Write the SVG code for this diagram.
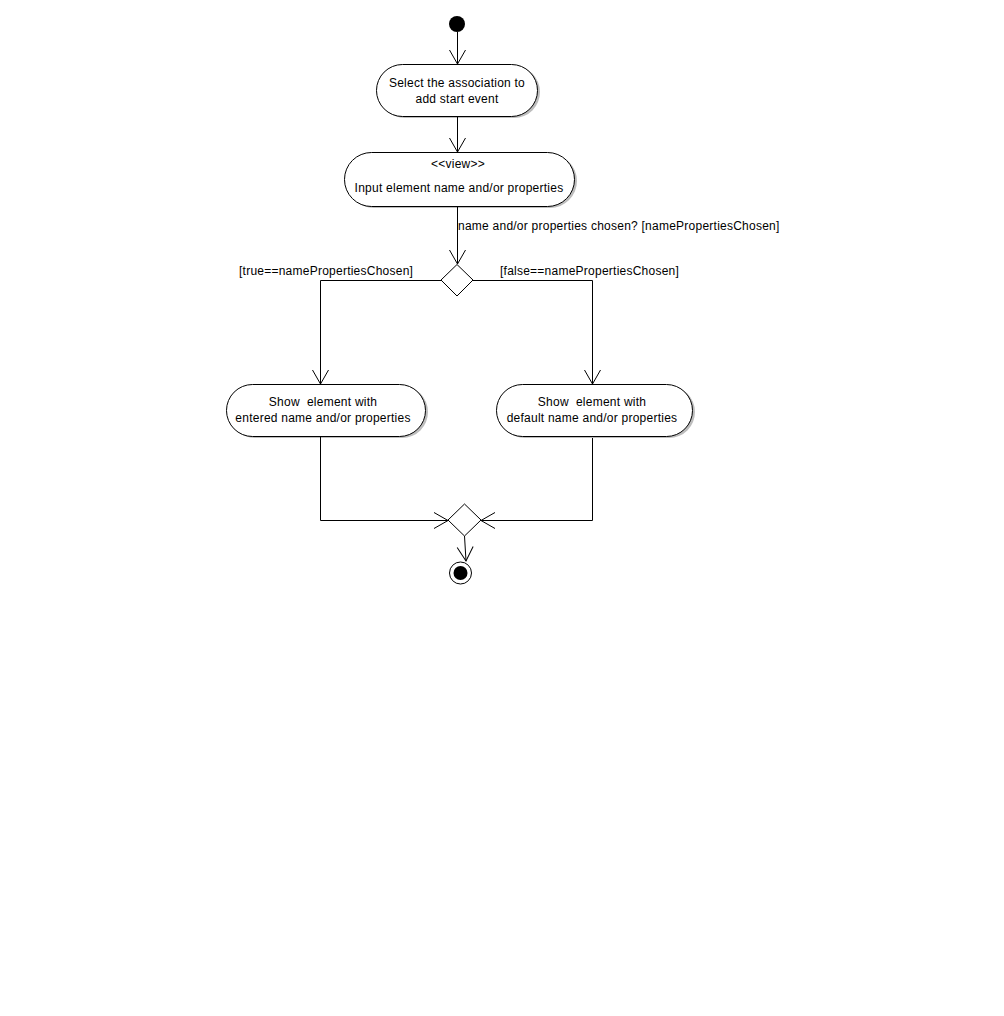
<svg xmlns="http://www.w3.org/2000/svg" width="1004" height="1016" viewBox="0 0 1004 1016">
  <style>
    text { font-family: "Liberation Sans", Arial, sans-serif; font-size: 12px; fill: #000; letter-spacing: 0.24px; white-space: pre; }
    .c { text-anchor: middle; }
    .node { fill: #fff; stroke: #000; stroke-width: 1; }
    .shadow { fill: #bdbdbd; stroke: none; }
    .edge { fill: none; stroke: #000; stroke-width: 1; }
  </style>
  <defs>
    <marker id="open" viewBox="0 0 16 20" refX="15" refY="10" markerWidth="16" markerHeight="20" markerUnits="userSpaceOnUse" orient="auto">
      <path d="M1,2 L15,10 L1,18" fill="none" stroke="#000" stroke-width="1"/>
    </marker>
  </defs>
  <rect width="1004" height="1016" fill="#fff"/>

  <g id="start">
    <circle cx="457" cy="24" r="8" fill="#000"/>
  </g>

  <g id="select-association">
    <rect class="shadow" x="379" y="66" width="161" height="52" rx="26" ry="26"/>
    <rect class="node" x="376.5" y="64.5" width="161" height="52" rx="26" ry="26"/>
    <text class="c" x="457" y="87">Select the association to</text>
    <text class="c" x="457" y="103">add start event</text>
  </g>

  <g id="input-element">
    <rect class="shadow" x="347" y="154" width="230" height="54" rx="27" ry="27"/>
    <rect class="node" x="344.5" y="152.5" width="230" height="54" rx="27" ry="27"/>
    <text class="c" x="458" y="168" font-size="11">&lt;&lt;view&gt;&gt;</text>
    <text class="c" x="459" y="192">Input element name and/or properties</text>
  </g>

  <g id="decision">
    <polygon class="node" points="457,264.5 473,280 457,296 441,280"/>
  </g>

  <g id="show-entered">
    <rect class="shadow" x="229" y="386" width="199" height="52" rx="26" ry="26"/>
    <rect class="node" x="226.5" y="384.5" width="199" height="52" rx="26" ry="26"/>
    <text class="c" x="323" y="406">Show  element with</text>
    <text class="c" x="323" y="422">entered name and/or properties</text>
  </g>

  <g id="show-default">
    <rect class="shadow" x="499" y="386" width="196" height="52" rx="26" ry="26"/>
    <rect class="node" x="496.5" y="384.5" width="196" height="52" rx="26" ry="26"/>
    <text class="c" x="592" y="406">Show  element with</text>
    <text class="c" x="592" y="422">default name and/or properties</text>
  </g>

  <g id="merge">
    <polygon class="node" points="464.5,504 481,520 464.5,536 448,520"/>
  </g>

  <g id="end">
    <circle cx="460.5" cy="573" r="11" fill="#fff" stroke="#000" stroke-width="1"/>
    <circle cx="460.5" cy="573" r="7" fill="#000"/>
  </g>

  <g id="connectors">
    <path class="edge" d="M457.5,32 L457.5,64" marker-end="url(#open)"/>
    <path class="edge" d="M457.5,117 L457.5,152" marker-end="url(#open)"/>
    <path class="edge" d="M457.5,207 L457.5,264" marker-end="url(#open)"/>
    <path class="edge" d="M441,280.5 L320.5,280.5 L320.5,384" marker-end="url(#open)"/>
    <path class="edge" d="M473,280.5 L592.5,280.5 L592.5,384" marker-end="url(#open)"/>
    <path class="edge" d="M320.5,437 L320.5,520.5 L448,520.5" marker-end="url(#open)"/>
    <path class="edge" d="M592.5,438 L592.5,520.5 L481,520.5" marker-end="url(#open)"/>
    <path class="edge" d="M464.5,536 L466,561" marker-end="url(#open)"/>
    <text x="458" y="230">name and/or properties chosen? [namePropertiesChosen]</text>
    <text x="239" y="275">[true==namePropertiesChosen]</text>
    <text x="500" y="275">[false==namePropertiesChosen]</text>
  </g>
</svg>
